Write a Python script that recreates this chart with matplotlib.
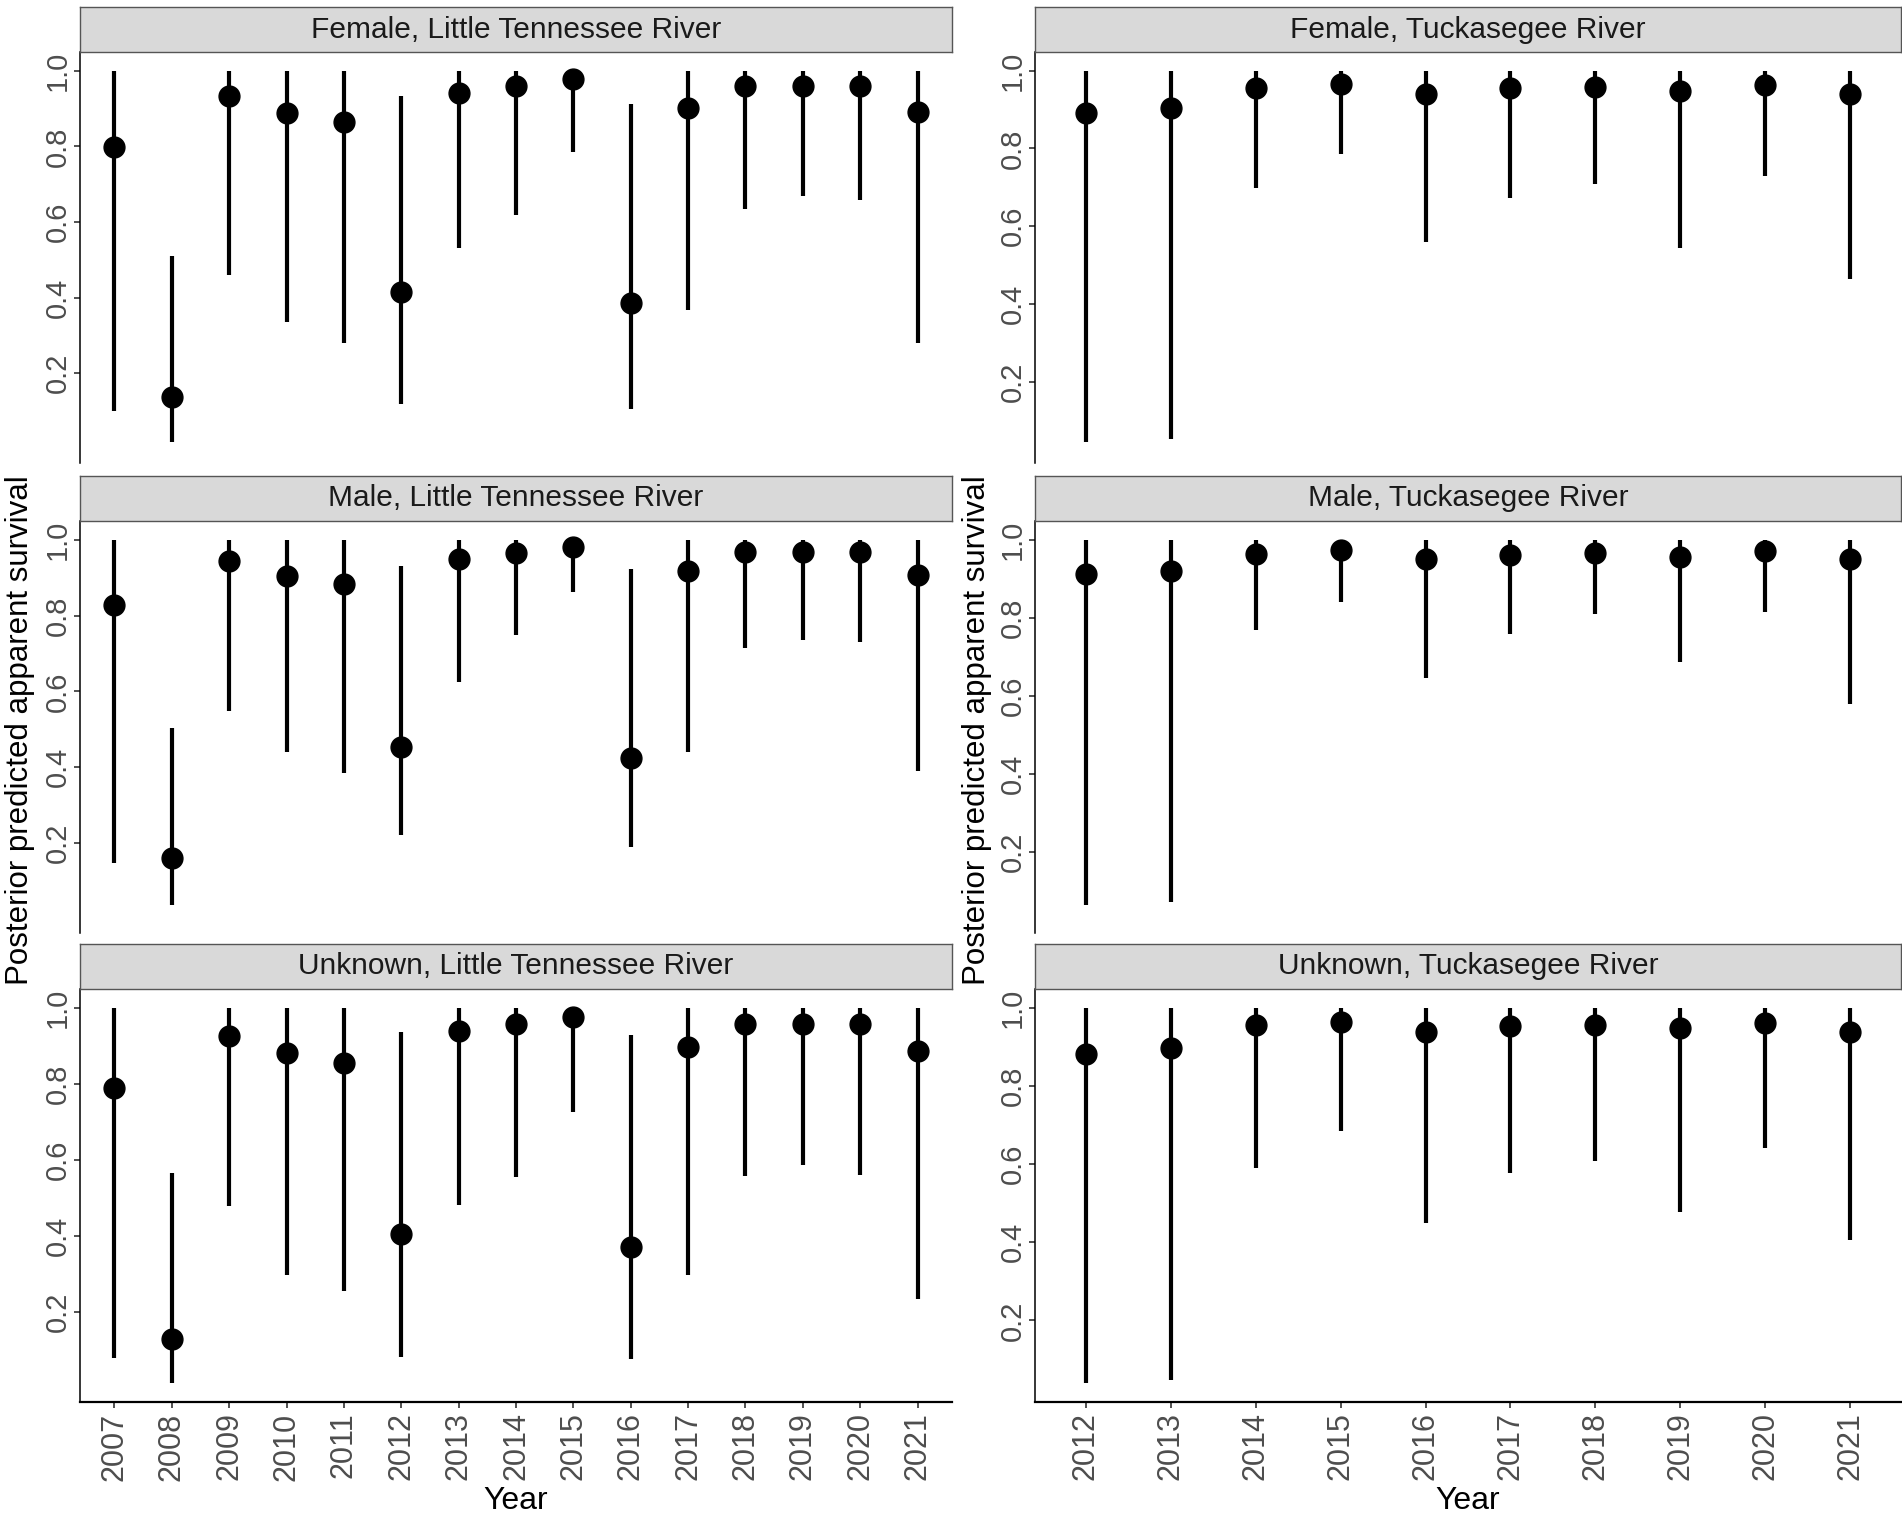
import matplotlib.pyplot as plt

plt.rcParams['font.family'] = ['Liberation Sans', 'DejaVu Sans']

# years per river
years_lt = [2007, 2008, 2009, 2010, 2011, 2012, 2013, 2014, 2015, 2016, 2017, 2018, 2019, 2020, 2021]
years_tk = [2012, 2013, 2014, 2015, 2016, 2017, 2018, 2019, 2020, 2021]

# Little Tennessee River (median, lower, upper)
fem_lt_med = [0.798, 0.137, 0.932, 0.888, 0.865, 0.414, 0.940, 0.960, 0.977, 0.386, 0.900, 0.960, 0.960, 0.960, 0.891]
fem_lt_lo = [0.100, 0.019, 0.461, 0.335, 0.279, 0.118, 0.532, 0.618, 0.786, 0.105, 0.366, 0.633, 0.668, 0.658, 0.279]
fem_lt_hi = [1.0, 0.509, 1.0, 1.0, 1.0, 0.933, 1.0, 1.0, 1.0, 0.912, 1.0, 1.0, 1.0, 1.0, 1.0]

male_lt_med = [0.829, 0.161, 0.944, 0.904, 0.884, 0.452, 0.950, 0.966, 0.981, 0.424, 0.918, 0.967, 0.967, 0.967, 0.908]
male_lt_lo = [0.147, 0.037, 0.549, 0.439, 0.384, 0.222, 0.625, 0.749, 0.861, 0.189, 0.441, 0.715, 0.735, 0.731, 0.389]
male_lt_hi = [1.0, 0.503, 1.0, 1.0, 1.0, 0.932, 1.0, 1.0, 1.0, 0.924, 1.0, 1.0, 1.0, 1.0, 1.0]

unk_lt_med = [0.789, 0.129, 0.927, 0.881, 0.855, 0.405, 0.939, 0.958, 0.975, 0.370, 0.896, 0.958, 0.956, 0.958, 0.885]
unk_lt_lo = [0.079, 0.012, 0.479, 0.296, 0.254, 0.082, 0.481, 0.554, 0.725, 0.077, 0.298, 0.558, 0.586, 0.561, 0.233]
unk_lt_hi = [1.0, 0.565, 1.0, 1.0, 1.0, 0.935, 1.0, 1.0, 1.0, 0.928, 1.0, 1.0, 1.0, 1.0, 1.0]

# Tuckasegee River
fem_tk_med = [0.891, 0.903, 0.956, 0.965, 0.940, 0.955, 0.957, 0.949, 0.963, 0.940]
fem_tk_lo = [0.044, 0.053, 0.698, 0.786, 0.559, 0.673, 0.709, 0.544, 0.728, 0.465]
fem_tk_hi = [1.0, 1.0, 1.0, 1.0, 1.0, 1.0, 1.0, 1.0, 1.0, 1.0]

male_tk_med = [0.913, 0.921, 0.964, 0.973, 0.951, 0.962, 0.966, 0.956, 0.970, 0.951]
male_tk_lo = [0.062, 0.071, 0.769, 0.840, 0.644, 0.759, 0.809, 0.686, 0.815, 0.579]
male_tk_hi = [1.0, 1.0, 1.0, 1.0, 1.0, 1.0, 1.0, 1.0, 1.0, 1.0]

unk_tk_med = [0.882, 0.896, 0.955, 0.964, 0.939, 0.954, 0.957, 0.947, 0.962, 0.939]
unk_tk_lo = [0.039, 0.048, 0.591, 0.685, 0.450, 0.576, 0.608, 0.477, 0.641, 0.405]
unk_tk_hi = [1.0, 1.0, 1.0, 1.0, 1.0, 1.0, 1.0, 1.0, 1.0, 1.0]

titles_lt = ['Female, Little Tennessee River', 'Male, Little Tennessee River', 'Unknown, Little Tennessee River']
titles_tk = ['Female, Tuckasegee River', 'Male, Tuckasegee River', 'Unknown, Tuckasegee River']

columns = [
    (years_lt, titles_lt, [(fem_lt_med, fem_lt_lo, fem_lt_hi),
                           (male_lt_med, male_lt_lo, male_lt_hi),
                           (unk_lt_med, unk_lt_lo, unk_lt_hi)]),
    (years_tk, titles_tk, [(fem_tk_med, fem_tk_lo, fem_tk_hi),
                           (male_tk_med, male_tk_lo, male_tk_hi),
                           (unk_tk_med, unk_tk_lo, unk_tk_hi)]),
]

W, H = 1902, 1515
fig = plt.figure(figsize=(W / 100, H / 100), dpi=100)

col_x = [(80, 952), (1035, 1901)]          # panel left/right in px
row_y = [(52, 463), (521, 933), (989, 1402)]  # panel top/bottom in px
strip_h = 45

tick_col = '#4D4D4D'
yticks = [0.2, 0.4, 0.6, 0.8, 1.0]

for c, (years, titles, series) in enumerate(columns):
    x0, x1 = col_x[c]
    # shared y range within a column, ggplot-style 5% expansion
    lo_all = min(min(s[1]) for s in series)
    hi_all = max(max(s[2]) for s in series)
    pad = 0.05 * (hi_all - lo_all)
    ylim = (lo_all - pad, hi_all + pad)
    xs = list(range(len(years)))
    for r, (med, lo, hi) in enumerate(series):
        top, bot = row_y[r]
        ax = fig.add_axes([x0 / W, 1 - bot / H, (x1 - x0) / W, (bot - top) / H])
        ax.vlines(xs, lo, hi, color='black', lw=3.0)
        ax.plot(xs, med, 'o', color='black', ms=15)
        ax.set_xlim(-0.6, len(years) - 0.4)
        ax.set_ylim(ylim)
        ax.set_yticks(yticks)
        ax.set_yticklabels([f'{v:.1f}' for v in yticks], rotation=90, va='center')
        ax.tick_params(axis='y', colors='#333333', labelcolor=tick_col,
                       labelsize=21, length=4, width=1.2, pad=2)
        for s in ['top', 'right']:
            ax.spines[s].set_visible(False)
        ax.spines['left'].set_linewidth(1.1)
        if r < 2:
            ax.spines['bottom'].set_visible(False)
            ax.tick_params(axis='x', bottom=False, labelbottom=False)
        else:
            ax.spines['bottom'].set_linewidth(1.6)
            ax.set_xticks(xs)
            ax.set_xticklabels([str(y) for y in years], rotation=90)
            ax.tick_params(axis='x', colors='#333333', labelcolor=tick_col,
                           labelsize=22, length=4.5, width=1.2, pad=3)
        # facet strip
        sax = fig.add_axes([x0 / W, 1 - top / H, (x1 - x0) / W, strip_h / H])
        sax.set_facecolor('#D9D9D9')
        sax.set_xticks([])
        sax.set_yticks([])
        for s in sax.spines.values():
            s.set_color('#555555')
            s.set_linewidth(1.0)
        sax.text(0.5, 0.5, titles[r], ha='center', va='center',
                 fontsize=21.5, color='#1A1A1A', transform=sax.transAxes)

    fig.text((x0 + x1) / 2 / W, 1 - 1509 / H, 'Year', ha='center', va='baseline', fontsize=23)

fig.text(20 / W, 1 - 730 / H, 'Posterior predicted apparent survival',
         rotation=90, ha='center', va='center', fontsize=22.5)
fig.text(977 / W, 1 - 730 / H, 'Posterior predicted apparent survival',
         rotation=90, ha='center', va='center', fontsize=22.5)

fig.savefig('out.png', dpi=100, facecolor='white')
